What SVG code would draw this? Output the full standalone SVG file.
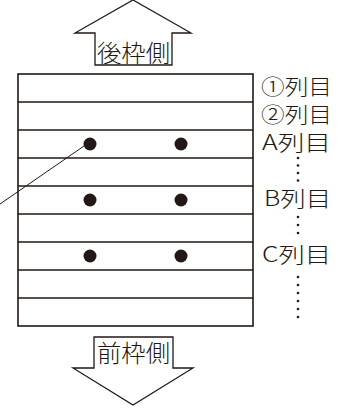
<svg xmlns="http://www.w3.org/2000/svg" width="342" height="408" viewBox="0 0 342 408">
<style>
.ln{stroke:#231815;stroke-width:1.6;fill:none}
.ar{stroke:#231815;stroke-width:1.3;fill:#fff;stroke-linejoin:miter}
.big{font-family:"Noto Sans CJK JP","Noto Sans",sans-serif;font-size:24px;font-weight:300;fill:#231815}
.lbl{font-family:"Noto Sans CJK JP","Noto Sans",sans-serif;font-size:21px;font-weight:300;fill:#231815}
.dot{fill:#231815}
</style>
<rect width="342" height="408" fill="#fff"/>
<g id="arrow-top">
<polygon class="ar" points="133,0 75,33 95,33 95,65 172,65 172,33 191,33"/>
<text class="big" x="133.5" y="62" text-anchor="middle" textLength="73" lengthAdjust="spacingAndGlyphs">後枠側</text>
</g>
<g id="frame">
<rect class="ln" x="18" y="74" width="235" height="252"/>
<path class="ln" d="M18 102H253M18 130H253M18 158H253M18 186H253M18 214H253M18 242H253M18 270H253M18 298H253"/>
</g>
<g id="posts">
<circle class="dot" cx="90" cy="144" r="6.5"/>
<circle class="dot" cx="181" cy="144" r="6.5"/>
<circle class="dot" cx="90" cy="200" r="6.5"/>
<circle class="dot" cx="181" cy="200" r="6.5"/>
<circle class="dot" cx="90" cy="256" r="6.5"/>
<circle class="dot" cx="181" cy="256" r="6.5"/>
</g>
<g id="connectors">
<line x1="84" y1="146" x2="0" y2="204" stroke="#231815" stroke-width="1"/>
</g>
<g id="labels">
<text class="lbl" x="261" y="94" textLength="71" lengthAdjust="spacingAndGlyphs">①列目</text>
<text class="lbl" x="261" y="122" textLength="71" lengthAdjust="spacingAndGlyphs">②列目</text>
<text class="lbl" x="262" y="150" textLength="69" lengthAdjust="spacingAndGlyphs">A列目</text>
<text class="lbl" x="264" y="206" textLength="67" lengthAdjust="spacingAndGlyphs">B列目</text>
<text class="lbl" x="262" y="262" textLength="69" lengthAdjust="spacingAndGlyphs">C列目</text>
<g class="dot">
<circle cx="298" cy="158" r="1.3"/><circle cx="298" cy="165.5" r="1.3"/><circle cx="298" cy="173" r="1.3"/><circle cx="298" cy="180.5" r="1.3"/>
<circle cx="298" cy="217" r="1.3"/><circle cx="298" cy="225" r="1.3"/><circle cx="298" cy="233" r="1.3"/>
<circle cx="298" cy="277" r="1.3"/><circle cx="298" cy="285" r="1.3"/><circle cx="298" cy="293" r="1.3"/><circle cx="298" cy="301" r="1.3"/><circle cx="298" cy="309" r="1.3"/><circle cx="298" cy="317" r="1.3"/>
</g>
</g>
<g id="arrow-bottom">
<polygon class="ar" points="94,337 173,337 173,368 193,368 133,405 73,368 94,368"/>
<text class="big" x="133.5" y="362" text-anchor="middle" textLength="73" lengthAdjust="spacingAndGlyphs">前枠側</text>
</g>
</svg>
